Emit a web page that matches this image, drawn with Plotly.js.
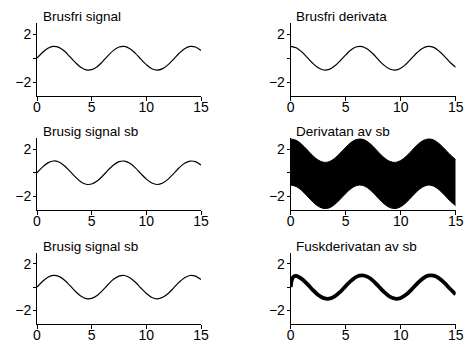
<!DOCTYPE html>
<html>
<head>
<meta charset="utf-8">
<script src="https://cdn.plot.ly/plotly-3.0.1.min.js"></script>
<style>html,body{margin:0;padding:0;background:#fff;}#chart{width:468px;height:347px;}</style>
</head>
<body>
<div id="chart"></div>
<script>
const t = [0,0.5,1,1.5,2,2.5,3,3.5,4,4.5,5,5.5,6,6.5,7,7.5,8,8.5,9,9.5,10,10.5,11,11.5,12,12.5,13,13.5,14,14.5,15];
const cleanSignal = [0,0.48,0.84,1.0,0.91,0.60,0.14,-0.35,-0.76,-0.98,-0.96,-0.71,-0.28,0.22,0.66,0.94,0.99,0.80,0.41,-0.08,-0.54,-0.88,-1.0,-0.87,-0.54,-0.07,0.42,0.80,0.99,0.94,0.65];
const cleanDeriv = [1.0,0.88,0.54,0.07,-0.42,-0.80,-0.99,-0.94,-0.65,-0.21,0.28,0.71,0.96,0.98,0.75,0.35,-0.15,-0.60,-0.91,-1.0,-0.84,-0.48,0.0,0.48,0.84,1.0,0.91,0.59,0.14,-0.36,-0.76];
const noisySignal = [0,0.48,0.84,1.0,0.91,0.60,0.14,-0.35,-0.76,-0.98,-0.96,-0.71,-0.28,0.22,0.66,0.94,0.99,0.80,0.41,-0.08,-0.54,-0.88,-1.0,-0.87,-0.54,-0.07,0.42,0.80,0.99,0.94,0.65];
const noisyDerivTop = [2.88,2.76,2.42,1.95,1.46,1.08,0.89,0.94,1.23,1.67,2.16,2.59,2.84,2.86,2.63,2.23,1.73,1.28,0.97,0.88,1.04,1.40,1.88,2.36,2.72,2.88,2.79,2.47,2.02,1.53,1.12];
const noisyDerivBot = [-1.05,-1.17,-1.51,-1.98,-2.47,-2.85,-3.04,-2.99,-2.70,-2.26,-1.77,-1.34,-1.09,-1.07,-1.30,-1.70,-2.20,-2.65,-2.96,-3.05,-2.89,-2.53,-2.05,-1.57,-1.21,-1.05,-1.14,-1.46,-1.91,-2.41,-2.81];
const tFake = [0,0.1,0.25,0.5,1,1.5,2,2.5,3,3.5,4,4.5,5,5.5,6,6.5,7,7.5,8,8.5,9,9.5,10,10.5,11,11.5,12,12.5,13,13.5,14,14.5,15];
const fakeDeriv = [0.0,0.6,0.88,0.96,0.70,0.27,-0.23,-0.67,-0.94,-0.99,-0.79,-0.40,0.09,0.55,0.89,1.0,0.87,0.53,0.05,-0.43,-0.81,-0.99,-0.93,-0.64,-0.19,0.30,0.72,0.97,0.97,0.74,0.33,-0.16,-0.61];
const titles = ["Brusfri signal","Brusfri derivata","Brusig signal sb","Derivatan av sb","Brusig signal sb","Fuskderivatan av sb"];
const xTicks = [0,5,10,15];
const yTicks = [-2,0,2];
const yTickText = ["\u22122","","2"];

const FONT = "Liberation Sans, Arial, sans-serif";
const thin = {color:"#000", width:1.2, shape:"spline"};
const traces = [
  {x:t, y:cleanSignal, xaxis:"x", yaxis:"y", mode:"lines", line:thin},
  {x:t, y:cleanDeriv, xaxis:"x2", yaxis:"y2", mode:"lines", line:thin},
  {x:t, y:noisySignal, xaxis:"x3", yaxis:"y3", mode:"lines", line:thin},
  {x:t, y:noisyDerivTop, xaxis:"x4", yaxis:"y4", mode:"lines", line:{color:"#000", width:1, shape:"spline"}},
  {x:t, y:noisyDerivBot, xaxis:"x4", yaxis:"y4", mode:"lines", fill:"tonexty", fillcolor:"#000", line:{color:"#000", width:1, shape:"spline"}},
  {x:t, y:noisySignal, xaxis:"x5", yaxis:"y5", mode:"lines", line:thin},
  {x:tFake, y:fakeDeriv, xaxis:"x6", yaxis:"y6", mode:"lines", line:{color:"#000", width:3.8, shape:"spline"}}
];

const xDom = [[37/468, 201/468],[290.7/468, 455.7/468]];
const yDom = [[1-96/347, 1-23.3/347],[1-210/347, 1-138.3/347],[1-324.3/347, 1-252.7/347]];
const layout = {
  width:468, height:347, showlegend:false,
  paper_bgcolor:"#fff", plot_bgcolor:"#fff",
  margin:{l:0,r:0,t:0,b:0},
  font:{family:FONT, color:"#000", size:14},
  annotations:[]
};
for (let i=0;i<6;i++){
  const r = Math.floor(i/2), c = i%2;
  const sx = i===0 ? "" : String(i+1);
  layout["xaxis"+sx] = {domain:xDom[c], anchor:"y"+sx, range:[0,15], tickvals:xTicks, ticks:"outside", ticklen:4, tickcolor:"#000", tickwidth:1,
    showline:true, linecolor:"#000", linewidth:1, showgrid:false, zeroline:false, tickfont:{family:FONT,size:14,color:"#000"}, ticklabelstandoff:-6, fixedrange:true};
  layout["yaxis"+sx] = {domain:yDom[r], anchor:"x"+sx, range:[-3.17,2.93], tickvals:yTicks, ticktext:yTickText, ticks:"outside", ticklen:3, tickcolor:"#000", tickwidth:1,
    showline:true, linecolor:"#000", linewidth:1, showgrid:false, zeroline:false, tickfont:{family:FONT,size:14,color:"#000"}, ticklabelstandoff:-1, fixedrange:true};
  layout.annotations.push({text:titles[i], xref:"paper", yref:"paper", x:(xDom[c][0]*468+3.5)/468, y:yDom[r][1]-3/347, xanchor:"left", yanchor:"bottom", showarrow:false, font:{family:FONT,size:13.5,color:"#000"}});
}
Plotly.newPlot("chart", traces, layout, {staticPlot:true, displayModeBar:false});
</script>
</body>
</html>
